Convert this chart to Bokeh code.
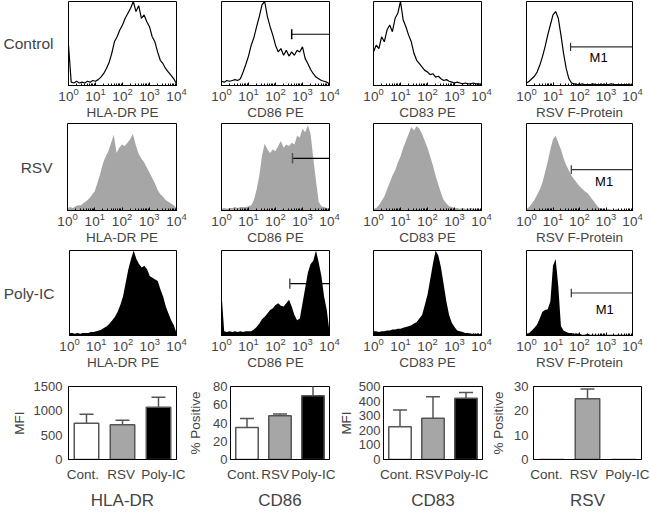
from bokeh.plotting import figure
from bokeh.models import Range1d, FixedTicker, ColumnDataSource, Whisker, TeeHead
from bokeh.layouts import column, row
from bokeh.embed import file_html
from bokeh.resources import INLINE
from bokeh.core.properties import value

FONT = "Liberation Sans"

# ---------------- data ----------------
bin_exponents = [0.0, 0.1, 0.2, 0.3, 0.4, 0.5, 0.6, 0.7, 0.8, 0.9,
                 1.0, 1.1, 1.2, 1.3, 1.4, 1.5, 1.6, 1.7, 1.8, 1.9,
                 2.0, 2.1, 2.2, 2.3, 2.4, 2.5, 2.6, 2.7, 2.8, 2.9,
                 3.0, 3.1, 3.2, 3.3, 3.4, 3.5, 3.6, 3.7, 3.8, 3.9, 4.0]
fluorescence = [10 ** e for e in bin_exponents]

conditions = ["Control", "RSV", "Poly-IC"]
markers = ["HLA-DR PE", "CD86 PE", "CD83 PE", "RSV F-Protein"]

hla_control = [48, 4, 3, 5, 3, 4, 3, 5, 4, 6, 5, 7, 10, 14, 20, 27, 38, 52, 58, 66,
               72, 80, 86, 92, 100, 88, 95, 80, 84, 76, 70, 58, 52, 40, 30, 26, 20, 16, 12, 8, 2]
cd86_control = [5, 4, 6, 5, 6, 7, 6, 8, 16, 25, 35, 48, 57, 70, 82, 96, 100, 82, 70, 60,
                48, 40, 44, 36, 42, 35, 40, 36, 42, 40, 46, 32, 26, 19, 14, 10, 8, 6, 5, 4, 2]
cd83_control = [40, 48, 44, 58, 52, 66, 72, 64, 80, 86, 100, 78, 70, 60, 52, 38, 30, 26, 22, 18,
                16, 13, 14, 10, 11, 8, 6, 7, 5, 4, 3, 4, 3, 2, 3, 2, 2, 3, 2, 2, 1]
rsvf_control = [3, 5, 8, 11, 16, 24, 34, 46, 60, 72, 84, 88, 80, 60, 38, 20, 8, 3, 2, 1,
                1, 2, 1, 1, 1, 2, 1, 1, 1, 1, 1, 1, 2, 1, 1, 1, 1, 1, 1, 1, 0]

hla_rsv = [3, 4, 3, 5, 6, 6, 9, 11, 14, 18, 22, 32, 42, 54, 62, 68, 78, 87, 66, 72,
           76, 74, 78, 82, 88, 76, 66, 60, 56, 50, 44, 38, 32, 24, 19, 16, 12, 10, 8, 6, 3]
cd86_rsv = [2, 3, 2, 3, 3, 4, 3, 4, 4, 4, 5, 6, 12, 24, 40, 63, 77, 70, 66, 70,
            68, 74, 80, 72, 76, 74, 78, 76, 86, 84, 94, 90, 98, 88, 60, 34, 10, 5, 4, 3, 2]
cd83_rsv = [2, 3, 6, 11, 16, 24, 32, 40, 46, 55, 62, 72, 80, 88, 96, 92, 97, 94, 88, 80,
            72, 62, 52, 40, 30, 20, 12, 8, 5, 4, 3, 3, 2, 3, 2, 2, 3, 2, 2, 2, 1]
rsvf_rsv = [2, 4, 8, 12, 18, 24, 32, 44, 56, 70, 82, 86, 78, 70, 60, 52, 46, 40, 36, 32,
            28, 25, 22, 20, 16, 12, 8, 4, 2, 2, 1, 2, 1, 1, 2, 1, 1, 1, 1, 1, 0]

hla_poly = [3, 3, 2, 3, 2, 3, 3, 3, 4, 4, 5, 6, 7, 9, 11, 14, 18, 22, 28, 36,
            46, 62, 78, 90, 100, 90, 84, 80, 82, 78, 70, 68, 66, 64, 54, 46, 34, 26, 18, 12, 3]
cd86_poly = [50, 5, 4, 5, 4, 5, 4, 5, 4, 5, 5, 5, 7, 10, 14, 19, 22, 26, 30, 32,
             36, 38, 35, 34, 38, 42, 34, 24, 18, 20, 38, 56, 74, 84, 88, 100, 86, 70, 46, 30, 4]
cd83_poly = [5, 5, 4, 5, 5, 6, 6, 7, 7, 8, 8, 9, 10, 11, 12, 14, 16, 20, 24, 36,
             48, 66, 84, 100, 94, 80, 60, 40, 24, 15, 10, 6, 5, 4, 3, 3, 2, 2, 2, 2, 1]
rsvf_poly = [2, 3, 6, 9, 13, 20, 28, 30, 31, 40, 82, 90, 58, 11, 6, 4, 3, 3, 2, 2,
             2, 1, 1, 2, 1, 1, 1, 1, 1, 1, 1, 1, 1, 1, 1, 1, 1, 1, 1, 1, 0]

histograms = [
    [hla_control, cd86_control, cd83_control, rsvf_control],
    [hla_rsv, cd86_rsv, cd83_rsv, rsvf_rsv],
    [hla_poly, cd86_poly, cd83_poly, rsvf_poly],
]

# gates (start of gate in fluorescence units, level in % of max)
cd86_gate_start = [398, 427, 339]
cd86_gate_level = [61, 60, 61]
m1_gate_start = [46, 49, 49]
m1_gate_level = [46, 47, 50]
m1_label_x = [525, 850, 900]
m1_label_y = [33, 33, 31]

bar_categories = ["Cont.", "RSV", "Poly-IC"]
hla_mfi = [745, 715, 1075]
hla_mfi_err = [185, 90, 205]
cd86_pos = [35, 48, 70]
cd86_pos_err = [10, 2, 11]
cd83_mfi = [224, 283, 420]
cd83_mfi_err = [115, 147, 39]
rsv_pos = [0, 25, 0]
rsv_pos_err = [0, 4, 0]

bar_titles = ["HLA-DR", "CD86", "CD83", "RSV"]
bar_ylabels = ["MFI", "% Positive", "MFI", "% Positive"]
bar_means = [hla_mfi, cd86_pos, cd83_mfi, rsv_pos]
bar_errs = [hla_mfi_err, cd86_pos_err, cd83_mfi_err, rsv_pos_err]
bar_ymax = [1500, 80, 500, 30]
bar_ticks = [[0, 500, 1000, 1500], [0, 20, 40, 60, 80], [0, 100, 200, 300, 400, 500], [0, 10, 20, 30]]

# ---------------- styling / layout ----------------
GRAY = "#a6a6a6"
EDGE = "#555555"
bar_colors = ["#ffffff", GRAY, "#000000"]

h_widths = [198, 153, 152, 145]
h_left = [67, 23, 22, 23]
h_right = [22, 22, 22, 16]
h_heights = [122, 126, 124]
h_top = [1, 1, 2]
h_bottom = [36, 38, 36]

b_widths = [185, 150, 153, 161]
b_left = [68, 41, 42, 41]
b_right = [9, 6, 6, 8]
b_tick_standoff = [6, 3, 3, 5]
b_label_standoff = [4, 7, 2, 5]
# horizontal nudges of the category labels (in category slots), as in the original
b_label_nudge = [[-0.10, -0.04, 0.15], [-0.12, -0.15, 0.03],
                 [-0.12, -0.12, 0.05], [-0.14, -0.11, 0.12]]
b_height = 140
b_top = 14
b_bottom = 49


def hist_fig(r, c):
    vals = histograms[r][c]
    p = figure(width=h_widths[c], height=h_heights[r], x_axis_type="log",
               x_range=Range1d(1, 10000), y_range=Range1d(0, 100),
               output_backend="svg", toolbar_location=None,
               min_border_left=h_left[c], min_border_right=h_right[c],
               min_border_top=h_top[r], min_border_bottom=h_bottom[r],
               y_axis_location="left" if c == 0 else None)
    p.grid.visible = False
    p.outline_line_color = "black"
    p.outline_line_width = 1
    p.background_fill_color = "white"
    p.border_fill_color = "white"
    if r == 0:
        p.line(fluorescence, vals, line_color="black", line_width=1.2)
    else:
        p.varea(x=fluorescence, y1=0, y2=vals,
                fill_color=GRAY if r == 1 else "black")
    if c == 1:
        p.segment(x0=[cd86_gate_start[r]], y0=[cd86_gate_level[r]],
                  x1=[p.x_range.end], y1=[cd86_gate_level[r]],
                  line_color="black", line_width=1.2)
        p.segment(x0=[cd86_gate_start[r]], y0=[cd86_gate_level[r] - 6],
                  x1=[cd86_gate_start[r]], y1=[cd86_gate_level[r] + 6],
                  line_color="black" if r == 0 else "#555555", line_width=1.5)
    if c == 3:
        p.segment(x0=[m1_gate_start[r]], y0=[m1_gate_level[r]],
                  x1=[p.x_range.end], y1=[m1_gate_level[r]],
                  line_color="#333333", line_width=1.2)
        p.segment(x0=[m1_gate_start[r]], y0=[m1_gate_level[r] - 5],
                  x1=[m1_gate_start[r]], y1=[m1_gate_level[r] + 5],
                  line_color="#333333", line_width=1.2)
        p.text(x=[m1_label_x[r]], y=[m1_label_y[r]], text=["M1"],
               text_font=value(FONT), text_font_size="13px",
               text_align="center", text_baseline="middle", text_color="black")
    ax = p.xaxis[0]
    ax.axis_label = markers[c]
    ax.axis_label_text_font = FONT
    ax.axis_label_text_font_size = "13.5px"
    ax.axis_label_text_font_style = "normal"
    ax.axis_label_standoff = 1
    ax.major_label_text_font = FONT
    ax.major_label_text_font_size = "13.5px"
    ax.major_label_standoff = 2
    ax.major_tick_in = 3
    ax.major_tick_out = 0
    ax.minor_tick_in = 2
    ax.minor_tick_out = 0
    ax.axis_line_color = "black"
    if c == 0:
        ya = p.yaxis[0]
        ya.axis_label = conditions[r]
        ya.axis_label_orientation = "horizontal"
        ya.ticker = FixedTicker(ticks=[])
        ya.major_label_text_font_size = "0px"
        ya.axis_line_color = None
        ya.major_tick_line_color = None
        ya.minor_tick_line_color = None
        ya.axis_label_standoff = 15
        ya.axis_label_text_font = FONT
        ya.axis_label_text_font_size = "15.5px"
        ya.axis_label_text_font_style = "normal"
    return p


def bar_fig(i):
    n = len(bar_categories)
    p = figure(width=b_widths[i], height=b_height,
               x_range=Range1d(-0.5, n - 0.5), y_range=Range1d(0, bar_ymax[i]),
               output_backend="svg", toolbar_location=None,
               min_border_left=b_left[i], min_border_right=b_right[i],
               min_border_top=b_top, min_border_bottom=b_bottom)
    p.grid.visible = False
    p.outline_line_color = "black"
    p.outline_line_width = 1
    pos = list(range(n))
    src = ColumnDataSource(dict(x=pos, mean=bar_means[i], color=bar_colors))
    p.vbar(x="x", top="mean", width=0.68, fill_color="color",
           line_color=EDGE, line_width=1.5, source=src)
    wx = [k for k, e in zip(pos, bar_errs[i]) if e > 0]
    wl = [m for m, e in zip(bar_means[i], bar_errs[i]) if e > 0]
    wu = [m + e for m, e in zip(bar_means[i], bar_errs[i]) if e > 0]
    wsrc = ColumnDataSource(dict(x=wx, lower=wl, upper=wu))
    w = Whisker(source=wsrc, base="x", lower="lower", upper="upper",
                upper_head=TeeHead(size=14, line_color=EDGE, line_width=1.5),
                lower_head=None, line_color=EDGE, line_width=1.5, level="annotation")
    p.add_layout(w)
    label_pos = [round(k + d, 3) for k, d in zip(pos, b_label_nudge[i])]
    xa = p.xaxis[0]
    xa.ticker = FixedTicker(ticks=label_pos)
    xa.major_label_overrides = {lp: name for lp, name in zip(label_pos, bar_categories)}
    xa.axis_label = bar_titles[i]
    xa.axis_label_text_font = FONT
    xa.axis_label_text_font_size = "17px"
    xa.axis_label_text_font_style = "normal"
    xa.axis_label_standoff = 6
    xa.major_label_text_font = FONT
    xa.major_label_text_font_size = "13.5px"
    xa.major_label_standoff = 1
    xa.major_tick_line_color = None
    xa.minor_tick_line_color = None
    xa.axis_line_color = "black"
    ya = p.yaxis[0]
    ya.ticker = FixedTicker(ticks=bar_ticks[i])
    ya.axis_label = bar_ylabels[i]
    ya.axis_label_text_font = FONT
    ya.axis_label_text_font_size = "13.5px"
    ya.axis_label_text_font_style = "normal"
    ya.axis_label_standoff = b_label_standoff[i]
    ya.major_label_text_font = FONT
    ya.major_label_text_font_size = "13px"
    ya.major_label_standoff = b_tick_standoff[i]
    ya.major_tick_in = 0
    ya.major_tick_out = 0
    ya.minor_tick_line_color = None
    ya.axis_line_color = "black"
    return p


rows = [row(*[hist_fig(r, c) for c in range(4)]) for r in range(3)]
rows.append(row(*[bar_fig(i) for i in range(4)]))
layout = column(*rows)

with open("out.html", "w") as f:
    f.write(file_html(layout, INLINE))
